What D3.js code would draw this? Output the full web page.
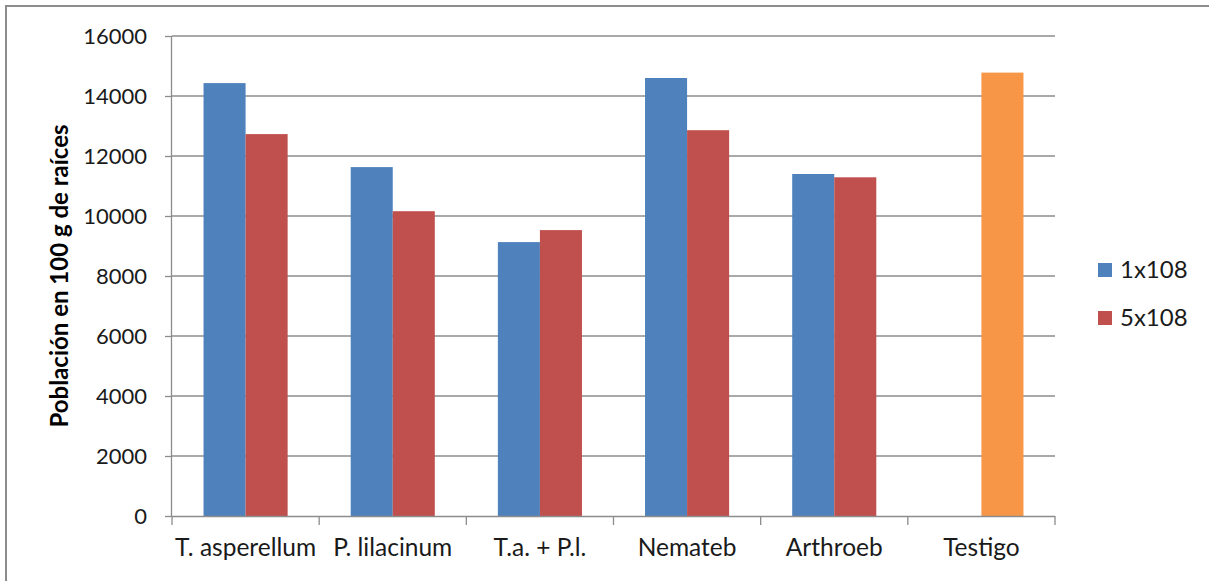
<!DOCTYPE html>
<html><head><meta charset="utf-8">
<script src="https://cdn.jsdelivr.net/npm/d3@7"></script>
<style>body{margin:0;background:#fff}svg{display:block}</style>
</head><body>
<script>
const categories = ["T. asperellum","P. lilacinum","T.a. + P.l.","Nemateb","Arthroeb","Testigo"];
const series1 = [14430, 11630, 9130, 14600, 11400, null];   // 1x108
const series2 = [12730, 10160, 9530, 12860, 11290, 14780]; // 5x108
const seriesNames = ["1x108","5x108"];
const yTicks = [0,2000,4000,6000,8000,10000,12000,14000,16000];

const W=1209,H=581;
const m={left:172,right:1055,top:36,bottom:516};
const font="Lato, 'Open Sans', sans-serif";
const colors=["#4F81BD","#C0504D"];
const specialColor="#F79646";

const svg=d3.select("body").append("svg").attr("width",W).attr("height",H);
svg.append("path").attr("d",`M6,${H+5}V6H${W+5}`).attr("fill","none").attr("stroke","#8c8c8c").attr("stroke-width",2);

const x=d3.scaleBand().domain(categories).range([m.left,m.right]).paddingInner(0).paddingOuter(0);
const x1=d3.scaleBand().domain([0,1]).range([0,x.bandwidth()]).paddingOuter(0.75).paddingInner(0);
const y=d3.scaleLinear().domain([0,16000]).range([m.bottom,m.top]);

// gridlines
svg.append("g").selectAll("line").data(yTicks.filter(d=>d>0)).join("line")
 .attr("x1",m.left).attr("x2",m.right).attr("y1",d=>y(d)).attr("y2",d=>y(d))
 .attr("stroke","#8c8c8c").attr("stroke-width",1.3);

// bars
const data=[];
categories.forEach((c,i)=>{
  if(series1[i]!=null) data.push({c,s:0,v:series1[i],col:colors[0]});
  if(series2[i]!=null) data.push({c,s:1,v:series2[i],col:c==="Testigo"?specialColor:colors[1]});
});
svg.append("g").selectAll("rect").data(data).join("rect")
 .attr("x",d=>x(d.c)+x1(d.s)).attr("width",x1.bandwidth())
 .attr("y",d=>y(d.v)).attr("height",d=>y(0)-y(d.v)).attr("fill",d=>d.col);

// y axis
const ya=svg.append("g").attr("transform",`translate(${m.left},0)`)
 .call(d3.axisLeft(y).tickValues(yTicks).tickSize(7).tickPadding(18).tickFormat(d3.format("d")));
ya.select(".domain").attr("stroke","#8c8c8c").attr("stroke-width",1.3).attr("d",`M-0.5,${m.top}V${m.bottom}`);
ya.selectAll(".tick line").attr("stroke","#8c8c8c").attr("stroke-width",1.3);
ya.selectAll("text").attr("font-family",font).attr("font-size",22).attr("fill","#1a1a1a");

// x axis
const xa=svg.append("g").attr("transform",`translate(0,${m.bottom})`)
 .call(d3.axisBottom(x).tickSize(0).tickPadding(23));
xa.select(".domain").attr("stroke","#8c8c8c").attr("stroke-width",1.3).attr("d",`M${m.left},0.5H${m.right}`);
xa.selectAll("text").attr("font-family",font).attr("font-size",24.5).attr("fill","#1a1a1a");
const bounds=categories.map(c=>x(c)).concat([m.right]);
xa.append("g").selectAll("line").data(bounds).join("line")
 .attr("x1",d=>d).attr("x2",d=>d).attr("y1",0).attr("y2",9).attr("stroke","#8c8c8c").attr("stroke-width",1.3);

// y title
svg.append("text").attr("transform",`translate(68,${(m.top+m.bottom)/2}) rotate(-90)`)
 .attr("text-anchor","middle").attr("font-family",font).attr("font-weight","bold").attr("font-size",24)
 .attr("fill","#000").text("Población en 100 g de raíces");

// legend
const lg=svg.append("g").selectAll("g").data(seriesNames).join("g")
 .attr("transform",(d,i)=>`translate(1098,${263+i*48})`);
lg.append("rect").attr("width",14).attr("height",14).attr("fill",(d,i)=>colors[i]);
lg.append("text").attr("x",22).attr("y",15).attr("font-family",font).attr("font-size",24).attr("fill","#1a1a1a").text(d=>d);
</script>
</body></html>
